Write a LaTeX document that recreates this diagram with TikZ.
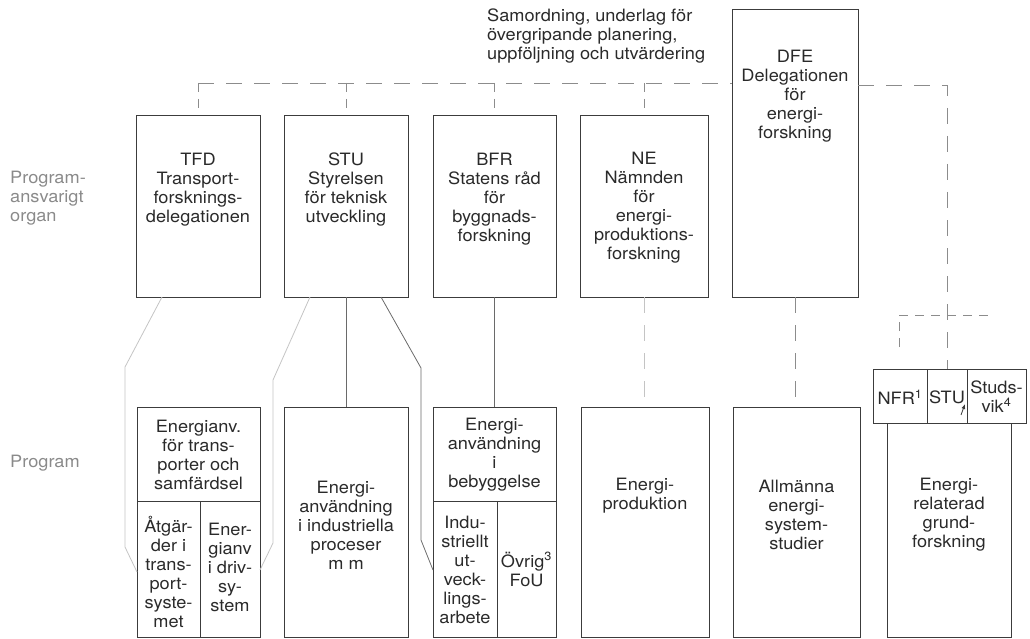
\documentclass[tikz,border=0pt]{standalone}
\usepackage{fontspec}
\setmainfont[FakeStretch=1.07]{TeX Gyre Heros}
\usetikzlibrary{fit,arrows.meta}
\definecolor{boxc}{HTML}{3C3C3C}
\definecolor{txtc}{HTML}{2A2A2A}
\definecolor{labc}{HTML}{8A8A8A}
\definecolor{dashc}{HTML}{8C8C8C}
\definecolor{faintc}{HTML}{C4C4C4}
\definecolor{connc}{HTML}{6A6A6A}
\begin{document}
\begin{tikzpicture}[x=1pt,y=-1pt,
  box/.style={draw=boxc, line width=0.9pt, inner sep=0pt},
  txt/.style={align=center, inner sep=0pt, text=txtc, font=\fontsize{17}{19}\selectfont},
  lab/.style={align=left, inner sep=0pt, text=labc, font=\fontsize{17}{19}\selectfont, anchor=west},
  dsh/.style={draw=dashc, line width=0.8pt, dash pattern=on 16pt off 12pt},
  dshs/.style={draw=dashc, line width=0.8pt, dash pattern=on 9pt off 7pt},
  faint/.style={draw=faintc, line width=0.8pt},
  conn/.style={draw=connc, line width=0.8pt}]
\useasboundingbox (0,0) rectangle (1030,639);

% top row: programme-responsible bodies
\node[box, fit={(136,115)(260,297)}] (tfd) {};
\node[box, fit={(284,115)(408,297)}] (stu) {};
\node[box, fit={(433,115)(556,297)}] (bfr) {};
\node[box, fit={(580,115)(708,297)}] (ne) {};
\node[box, fit={(732,9)(858,297)}] (dfe) {};

\node[txt] (tfdt) at (198,190) {TFD\\Transport-\\forsknings-\\delegationen};
\node[txt] (stut) at (346,190) {STU\\Styrelsen\\för teknisk\\utveckling};
\node[txt] (bfrt) at (494.5,199) {BFR\\Statens råd\\för\\byggnads-\\forskning};
\node[txt] (net) at (644,208) {NE\\Nämnden\\för\\energi-\\produktions-\\forskning};
\node[txt] (dfet) at (795,96) {DFE\\Delegationen\\för\\energi-\\forskning};

\node[txt, align=left, anchor=west] (samt) at (487,36) {Samordning, underlag för\\övergripande planering,\\uppföljning och utvärdering};

\node[lab] (lab1) at (10,198) {Program-\\ansvarigt\\organ};
\node[lab] (lab2) at (10,463) {Program};

% bottom row: programmes
\node[box, fit={(137,407)(260,637)}] (pt) {};
\node[box, fit={(137,407)(260,501)}] (pt1) {};
\node[box, fit={(137,501)(200,637)}] (pt2) {};
\node[box, fit={(200,501)(260,637)}] (pt3) {};
\node[box, fit={(284,407)(408,637)}] (pi) {};
\node[box, fit={(433,407)(556,637)}] (pb) {};
\node[box, fit={(433,407)(556,501)}] (pb1) {};
\node[box, fit={(433,501)(497,637)}] (pb2) {};
\node[box, fit={(497,501)(556,637)}] (pb3) {};
\node[box, fit={(581,407)(709,637)}] (pe) {};
\node[box, fit={(733,407)(860,637)}] (pa) {};
\node[box, fit={(887,423)(1011,637)}] (pg) {};
\node[box, fit={(873,369)(927,423)}] (nfr) {};
\node[box, fit={(927,369)(967,423)}] (stuc) {};
\node[box, fit={(967,369)(1026,423)}] (studs) {};

\node[txt] at (198.5,455) {Energianv.\\för trans-\\porter och\\samfärdsel};
\node[txt] at (168.5,572) {Åtgär-\\der i\\trans-\\port-\\syste-\\met};
\node[txt] at (230,567) {Ener-\\gianv\\i driv-\\sy-\\stem};
\node[txt] at (346,525) {Energi-\\användning\\i industriella\\proceser\\m m};
\node[txt] at (494.5,455) {Energi-\\användning\\i\\bebyggelse};
\node[txt] at (465,570) {Indu-\\striellt\\ut-\\veck-\\lings-\\arbete};
\node[txt] at (526.5,569) {Övrig\textsuperscript{3}\\FoU};
\node[txt] at (645,496) {Energi-\\produktion};
\node[txt] at (796.5,515) {Allmänna\\energi-\\system-\\studier};
\node[txt] at (949,515) {Energi-\\relaterad\\grund-\\forskning};
\node[txt] at (900,397) {NFR\textsuperscript{1}};
\node[txt] at (947,397) {STU};
\node[txt] at (996.5,397) {Studs-\\vik\textsuperscript{4}};

% coordination bus
\coordinate (b1) at (198,83);
\coordinate (b2) at (346,83);
\coordinate (b3) at (494.5,83);
\coordinate (b4) at (644,83);
\coordinate (b5) at (732,83);
\draw[dsh] (b1) -- (b5);
\draw[dshs] (b1) -- (tfd.north);
\draw[dshs] (b2) -- (stu.north);
\draw[dshs] (b3) -- (bfr.north);
\draw[dshs] (b4) -- (ne.north);

\coordinate (r1) at (858,85);
\coordinate (r2) at (947,85);
\draw[dsh] (r1) -- (r2) -- (stuc.north);
\coordinate (k1) at (899,347);
\coordinate (k2) at (899,315);
\coordinate (k3) at (994,315);
\draw[dshs] (k1) -- (k2) -- (k3);

% vertical links
\draw[conn] (stu.south) -- (pi.north);
\draw[conn] (bfr.south) -- (pb.north);
\draw[dsh, draw=faintc] (ne.south) -- (ne.south |- pe.north);
\draw[dsh] (dfe.south) -- (dfe.south |- pa.north);

% bracket links
\coordinate (t1) at (162,297);
\coordinate (t2) at (137,572);
\draw[faint] (t1) -- (125,367) -- (125,547) -- (t2);
\coordinate (s1) at (310,297);
\coordinate (s2) at (260,570);
\draw[faint] (s1) -- (273,380) -- (273,543) -- (s2);
\coordinate (u1) at (381,297);
\coordinate (u2) at (433,570);
\draw[conn] (u1) -- (421,368) -- (421,540) -- (u2);

% small arrow in STU cell
\coordinate (a1) at (961,415);
\coordinate (a2) at (965,404);
\draw[boxc, line width=0.8pt, -{Latex[length=5pt,width=4pt]}] (a1) -- (a2);
\end{tikzpicture}
\end{document}
